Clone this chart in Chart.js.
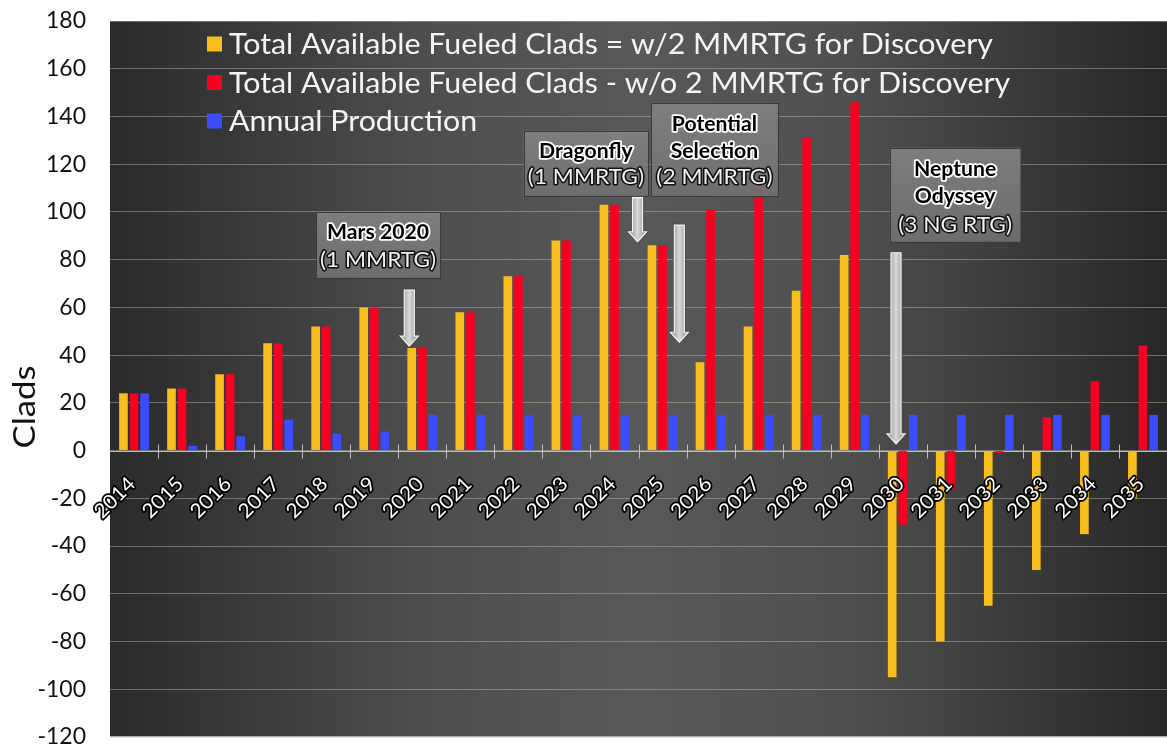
<!DOCTYPE html>
<html><head><meta charset="utf-8">
<script src="https://cdn.jsdelivr.net/npm/chart.js@4.4.1/dist/chart.umd.min.js"></script>
<style>html,body{margin:0;padding:0;background:#fff;overflow:hidden;}canvas{display:block;}</style>
</head><body>
<canvas id="c" width="1167" height="749"></canvas>
<script>
// ---- data ----
const years = ['2014','2015','2016','2017','2018','2019','2020','2021','2022','2023','2024','2025','2026','2027','2028','2029','2030','2031','2032','2033','2034','2035'];
const withDiscovery = [24,26,32,45,52,60,43,58,73,88,103,86,37,52,67,82,-95,-80,-65,-50,-35,-20];
const withoutDiscovery = [24,26,32,45,52,60,43,58,73,88,103,86,101,116,131,146,-31,-16,-1,14,29,44];
const annualProduction = [24,2,6,13,7,8,15,15,15,15,15,15,15,15,15,15,15,15,15,15,15,15];
const seriesLabels = [
  'Total Available Fueled Clads = w/2 MMRTG for Discovery',
  'Total Available Fueled Clads - w/o 2 MMRTG for Discovery',
  'Annual Production'
];
const yMin = -120, yMax = 180, yStep = 20;
const yTitle = 'Clads';

// annotation callouts, anchored in data coordinates (category index, value)
const callouts = [
  {lines:[['Mars 2020',true],['(1 MMRTG)',false]], x0:3.79, x1:6.37, yTop:100, yBot:72.4, lineY:[91.2,79.8], arrow:{x:5.73, top:67.3, tip:43.8}},
  {lines:[['Dragonfly',true],['(1 MMRTG)',false]], x0:8.11, x1:10.70, yTop:134, yBot:106.8, lineY:[125.2,114.6], arrow:{x:10.48, top:106, tip:87.5}},
  {lines:[['Potential',true],['Selection',true],['(2 MMRTG)',false]], x0:10.76, x1:13.40, yTop:145.7, yBot:106.7, lineY:[136.7,125.5,114.5], arrow:{x:11.35, top:94.5, tip:45.4}},
  {lines:[['Neptune',true],['Odyssey',true],['(3 NG RTG)',false]], x0:15.73, x1:18.45, yTop:126.9, yBot:87.5, lineY:[117.6,106.4,94.5], arrow:{x:15.86, top:82.9, tip:2.8}}
];

const colors = ['#F8BF1C', '#F70022', '#3B4CFF'];
const FONT = 'Lato, "Open Sans", sans-serif';

function wideText(ctx, text, x, y, stretch) {
  ctx.save();
  ctx.translate(x, y);
  ctx.scale(stretch, 1);
  ctx.fillText(text, 0, 0);
  ctx.restore();
}
function outlinedText(ctx, text, x, y, stretch, fill, stroke, lw) {
  ctx.save();
  ctx.translate(x, y);
  ctx.scale(stretch, 1);
  ctx.lineJoin = 'round';
  ctx.strokeStyle = stroke; ctx.lineWidth = lw;
  ctx.strokeText(text, 0, 0);
  ctx.fillStyle = fill;
  ctx.fillText(text, 0, 0);
  ctx.restore();
}

const decor = {
  id: 'decor',
  beforeDraw(chart) {
    const {ctx, chartArea: a} = chart;
    ctx.save();
    const g = ctx.createLinearGradient(a.left, 0, a.right, 0);
    g.addColorStop(0, '#2a2a2a');
    g.addColorStop(0.3, '#4e4e4e');
    g.addColorStop(0.5, '#585858');
    g.addColorStop(0.7, '#4f4f4f');
    g.addColorStop(1, '#272727');
    ctx.fillStyle = g;
    ctx.fillRect(a.left, a.top, a.right - a.left, a.bottom - a.top);
    ctx.restore();
  },
  beforeDatasetsDraw(chart) {
    const {ctx, chartArea: a, scales: {x, y}} = chart;
    ctx.save();
    const y0 = Math.round(y.getPixelForValue(0)) + 0.5;
    ctx.strokeStyle = '#bdbdbd';
    ctx.lineWidth = 1;
    ctx.beginPath();
    ctx.moveTo(a.left, y0); ctx.lineTo(a.right, y0);
    for (let i = 0; i <= years.length; i++) {
      const px = Math.round(x.getPixelForValue(i - 0.5)) + 0.5;
      if (px <= a.left + 1 || px >= a.right - 1) continue;
      ctx.moveTo(px, y0 - 7); ctx.lineTo(px, y0 + 7);
    }
    ctx.stroke();
    // light bottom edge of the plot
    ctx.strokeStyle = '#b0b0b0';
    ctx.beginPath();
    ctx.moveTo(a.left, Math.round(a.bottom) - 0.5); ctx.lineTo(a.right, Math.round(a.bottom) - 0.5);
    ctx.stroke();
    ctx.restore();
  },
  afterDatasetsDraw(chart) {
    const {ctx, scales: {x, y}} = chart;
    ctx.save();
    // category labels along the zero line
    const y0 = y.getPixelForValue(0);
    ctx.font = '20px ' + FONT;
    ctx.textAlign = 'right';
    ctx.textBaseline = 'middle';
    years.forEach((lab, i) => {
      const px = x.getPixelForValue(i);
      ctx.save();
      ctx.translate(px - 2, y0 + 30);
      ctx.rotate(-Math.PI / 4);
      outlinedText(ctx, lab, 0, 0, 1.05, '#ffffff', '#000000', 3.5);
      ctx.restore();
    });
    callouts.forEach(c => {
      const L = x.getPixelForValue(c.x0), R = x.getPixelForValue(c.x1);
      const T = y.getPixelForValue(c.yTop), B = y.getPixelForValue(c.yBot);
      const bg = ctx.createLinearGradient(0, T, 0, B);
      bg.addColorStop(0, 'rgba(130,130,130,0.92)');
      bg.addColorStop(1, 'rgba(112,112,112,0.92)');
      ctx.fillStyle = bg;
      ctx.fillRect(L, T, R - L, B - T);
      ctx.strokeStyle = '#3a3a3a';
      ctx.lineWidth = 1;
      ctx.strokeRect(Math.round(L) + 0.5, Math.round(T) + 0.5, Math.round(R - L), Math.round(B - T));
      const cx = (L + R) / 2;
      ctx.textAlign = 'center';
      ctx.textBaseline = 'middle';
      c.lines.forEach((ln, i) => {
        const ty = y.getPixelForValue(c.lineY[i]);
        if (ln[1]) {
          ctx.font = 'bold 20px ' + FONT;
          outlinedText(ctx, ln[0], cx, ty, 1.06, '#000000', '#ffffff', 3.5);
        } else {
          ctx.font = '21px ' + FONT;
          outlinedText(ctx, ln[0], cx, ty, 1.08, '#eeeeee', '#111111', 3);
        }
      });
      // arrow
      const ax = x.getPixelForValue(c.arrow.x);
      const at = y.getPixelForValue(c.arrow.top);
      const tip = y.getPixelForValue(c.arrow.tip);
      const hs = tip - 10;
      ctx.beginPath();
      ctx.moveTo(ax - 5, at); ctx.lineTo(ax + 5, at); ctx.lineTo(ax + 5, hs);
      ctx.lineTo(ax + 9, hs); ctx.lineTo(ax, tip); ctx.lineTo(ax - 9, hs);
      ctx.lineTo(ax - 5, hs); ctx.closePath();
      const ag = ctx.createLinearGradient(ax - 9, 0, ax + 9, 0);
      ag.addColorStop(0, '#8c8c8c'); ag.addColorStop(0.5, '#d8d8d8'); ag.addColorStop(1, '#8c8c8c');
      ctx.lineJoin = 'miter';
      ctx.strokeStyle = '#4a4a4a'; ctx.lineWidth = 3; ctx.stroke();
      ctx.fillStyle = ag; ctx.fill();
      ctx.strokeStyle = '#f2f2f2'; ctx.lineWidth = 1.2; ctx.stroke();
    });
    ctx.restore();
  },
  afterDraw(chart) {
    const {ctx, chartArea: a} = chart;
    ctx.save();
    // legend (text stretched to the wide face of the original)
    ctx.font = '29px ' + FONT;
    ctx.textBaseline = 'middle';
    ctx.textAlign = 'left';
    const stretch = 764 / ctx.measureText(seriesLabels[0]).width;
    seriesLabels.forEach((lab, i) => {
      const cy = a.top + 23 + i * 38.5;
      ctx.fillStyle = colors[i];
      ctx.fillRect(a.left + 97, cy - 7.5, 15, 15);
      ctx.fillStyle = '#f4f4f4';
      wideText(ctx, lab, a.left + 119, cy + 1, stretch);
    });
    // y title
    ctx.translate(25, 407);
    ctx.rotate(-Math.PI / 2);
    ctx.font = '31px ' + FONT;
    ctx.fillStyle = '#111';
    ctx.textAlign = 'center';
    wideText(ctx, yTitle, 0, 0, 1.12);
    ctx.restore();
  }
};

new Chart(document.getElementById('c'), {
  type: 'bar',
  data: {
    labels: years,
    datasets: [
      {label: seriesLabels[0], data: withDiscovery, backgroundColor: colors[0]},
      {label: seriesLabels[1], data: withoutDiscovery, backgroundColor: colors[1]},
      {label: seriesLabels[2], data: annualProduction, backgroundColor: colors[2]}
    ]
  },
  options: {
    responsive: false,
    devicePixelRatio: 1,
    animation: false,
    layout: {padding: {top: 21, bottom: 12, left: 0, right: -6}},
    datasets: {bar: {categoryPercentage: 0.66, barPercentage: 0.82}},
    plugins: {legend: {display: false}, tooltip: {enabled: false}},
    scales: {
      x: {display: false},
      y: {
        min: yMin, max: yMax,
        afterFit(s) { s.width = 110; s.paddingTop = 0; s.paddingBottom = 0; },
        grid: {color: 'rgba(190,190,190,0.45)', drawTicks: false},
        border: {display: false},
        ticks: {stepSize: yStep, padding: 24, color: '#111', font: {family: FONT, size: 23}}
      }
    }
  },
  plugins: [decor]
});
</script>
</body></html>
